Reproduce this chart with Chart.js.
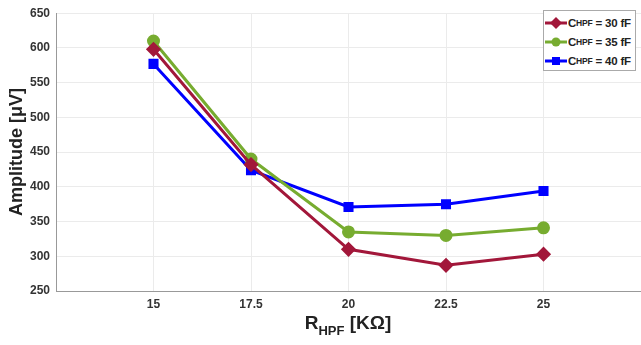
<!DOCTYPE html>
<html>
<head>
<meta charset="utf-8">
<script src="https://cdn.jsdelivr.net/npm/chart.js@4/dist/chart.umd.min.js"></script>
<style>
  html, body { margin: 0; padding: 0; background: #fff; }
  #wrap { position: relative; width: 641px; height: 345px; font-family: "Liberation Sans", Arial, sans-serif; }
  #legend { position: absolute; left: 543px; top: 10px; width: 93px; height: 61px; border: 1px solid #aaa; background: #fff; box-sizing: border-box; padding-top: 2px; }
  .item { height: 19px; display: flex; align-items: center; font-weight: bold; font-size: 11.5px; color: #222; white-space: nowrap; letter-spacing: -0.2px; }
  .item svg { margin: 0 1px 0 1px; flex: none; }
  sub { font-size: 8.5px; vertical-align: -4px; line-height: 0; }
  #xtitle { position: absolute; left: 0; width: 696px; top: 312px; text-align: center; font-weight: bold; font-size: 19px; color: #222; }
  #xtitle sub { font-size: 13px; vertical-align: -6px; }
</style>
</head>
<body>
<div id="wrap">
  <canvas id="ampChart" width="641" height="345"></canvas>
  <div id="legend">
    <div class="item"><svg width="22" height="12"><line x1="0" y1="6" x2="22" y2="6" stroke="#A2173A" stroke-width="3"/><polygon points="11,0 17,6 11,12 5,6" fill="#A2173A"/></svg>C<sub>HPF</sub>&nbsp;= 30 fF</div>
    <div class="item"><svg width="22" height="12"><line x1="0" y1="6" x2="22" y2="6" stroke="#77AC30" stroke-width="3"/><circle cx="11" cy="6" r="4.5" fill="#77AC30"/></svg>C<sub>HPF</sub>&nbsp;= 35 fF</div>
    <div class="item"><svg width="22" height="12"><line x1="0" y1="6" x2="22" y2="6" stroke="#0000FF" stroke-width="3"/><rect x="7" y="2" width="8" height="8" fill="#0000FF"/></svg>C<sub>HPF</sub>&nbsp;= 40 fF</div>
  </div>
  <div id="xtitle">R<sub>HPF</sub> [KΩ]</div>
</div>
<script>
let resistance = [15, 17.5, 20, 22.5, 25];
let amp30 = [598, 432, 310, 287, 303];
let amp35 = [610, 440, 335, 330, 341];
let amp40 = [577, 424, 371, 375, 394];

function toPoints(values) {
    return resistance.map((r, i) => ({ x: r, y: values[i] }));
}

let ampChart = document.getElementById('ampChart');

new Chart(ampChart, {
    type: 'line',
    data: {
        datasets: [{
            label: 'CHPF = 30 fF',
            data: toPoints(amp30),
            borderColor: '#A2173A',
            backgroundColor: '#A2173A',
            borderWidth: 3,
            pointStyle: 'rectRot',
            pointRadius: 5.5,
        }, {
            label: 'CHPF = 35 fF',
            data: toPoints(amp35),
            borderColor: '#77AC30',
            backgroundColor: '#77AC30',
            borderWidth: 3,
            pointStyle: 'circle',
            pointRadius: 5,
        }, {
            label: 'CHPF = 40 fF',
            data: toPoints(amp40),
            borderColor: '#0000FF',
            backgroundColor: '#0000FF',
            borderWidth: 3,
            pointStyle: 'rect',
            pointRadius: 5,
        }]
    },
    options: {
        responsive: false,
        animation: false,
        layout: { autoPadding: false, padding: { top: 6, right: 0, left: 0, bottom: 0 } },
        plugins: {
            legend: { display: false },
            tooltip: { enabled: false }
        },
        scales: {
            x: {
                type: 'linear',
                min: 12.5,
                max: 27.5,
                afterFit: (scale) => {
                    scale.height = 54;
                    scale.paddingLeft = 0;
                    scale.paddingRight = 0;
                },
                ticks: {
                    stepSize: 2.5,
                    padding: 6,
                    color: '#333',
                    font: { family: 'Liberation Sans', size: 12, weight: 'bold' },
                    callback: (v) => (v === 12.5 || v === 27.5) ? '' : v
                },
                grid: {
                    color: (c) => (c.tick && c.tick.value === 27.5) ? 'rgba(0,0,0,0)' : '#ebebeb',
                    drawTicks: false
                },
                border: { color: '#999', width: 1 }
            },
            y: {
                min: 250,
                max: 650,
                afterFit: (scale) => { scale.width = 56; },
                ticks: {
                    stepSize: 50,
                    padding: 6,
                    color: '#333',
                    font: { family: 'Liberation Sans', size: 12, weight: 'bold' }
                },
                grid: { color: '#ebebeb', drawTicks: false },
                border: { color: '#999', width: 1 },
                title: {
                    display: true,
                    text: 'Amplitude [μV]',
                    color: '#222',
                    font: { family: 'Liberation Sans', size: 18, weight: 'bold' },
                    padding: { top: 6, bottom: 0 }
                }
            }
        }
    }
});
</script>
</body>
</html>
